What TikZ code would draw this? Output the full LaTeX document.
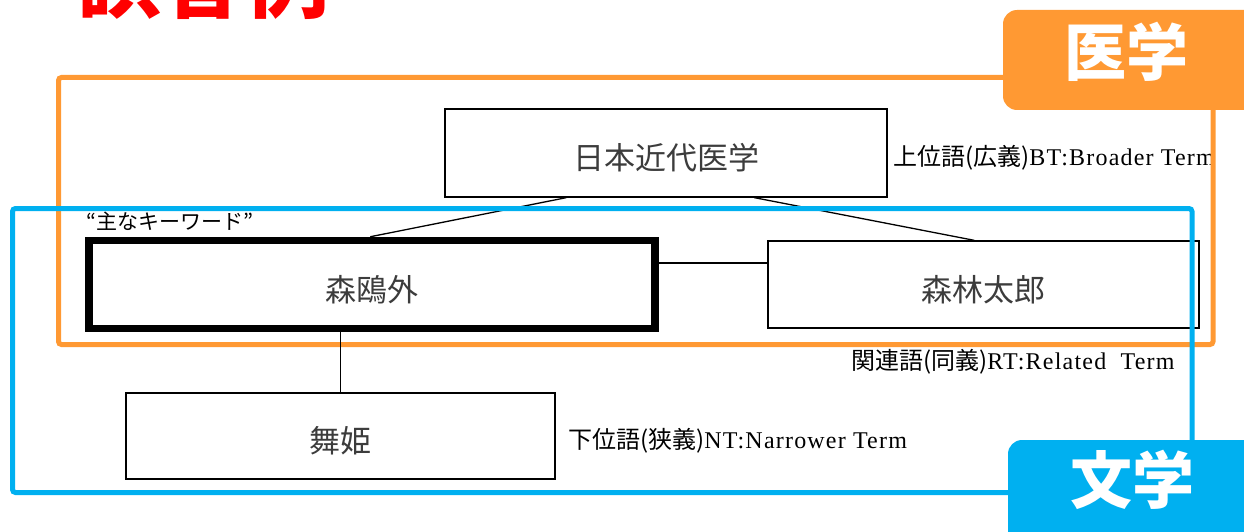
\documentclass[tikz,border=0pt]{standalone}
\usepackage{fontspec}
\setmainfont{Noto Sans CJK JP}
\newfontfamily\lat{Liberation Serif}[LetterSpace=5]
\usetikzlibrary{calc}
\definecolor{medorange}{RGB}{255,153,51}
\definecolor{litblue}{RGB}{0,176,240}
\definecolor{boxtext}{RGB}{60,60,60}
\begin{document}
\begin{tikzpicture}[x=1pt,y=-1pt,
  term/.style={draw, line width=1.3pt, text=boxtext, font=\fontsize{31}{36}\selectfont, inner sep=0pt, text height=33pt, text depth=0pt},
  note/.style={anchor=base west, inner sep=0pt, font=\fontsize{24}{28}\selectfont},
  conn/.style={line width=1.3pt},
  frame/.style={line width=5pt, rounded corners=3pt},
  tab/.style={rounded corners=14pt},
  tabtext/.style={anchor=base, text=white, inner sep=0pt, font=\fontsize{62}{70}\selectfont\bfseries}]
\useasboundingbox (0,0) rectangle (1244,532);
\node[anchor=base west, inner sep=0pt, text=red, font=\fontsize{84}{90}\selectfont\bfseries] (title) at (77,12) {誤答例};
% terms
\node[term, minimum width=442pt, minimum height=88pt] (bt) at (666,153) {日本近代医学};
\node[term, line width=7.5pt, minimum width=566pt, minimum height=88pt] (key) at (372,284.5) {森鴎外};
\node[term, minimum width=431pt, minimum height=87pt] (rt) at (983.5,284.5) {森林太郎};
\node[term, minimum width=429pt, minimum height=86pt] (nt) at (340.5,436) {舞姫};
% labels
\node[note, font=\fontsize{21}{24}\selectfont] (kw) at (86,229) {“主なキーワード”};
\node[note] (btl) at (893,165) {上位語(広義){\lat BT:Broader Term}};
\node[note] (rtl) at (851,369) {関連語(同義){\lat RT:Related\ \ Term}};
\node[note] (ntl) at (568,448) {下位語(狭義){\lat NT:Narrower Term}};
% frames
\draw[frame, medorange] (58.5,77.5) rectangle (1213,344.5);
% connectors
\draw[conn] ($(bt.south west)+(122,0)$) -- ($(key.north west)+(285,0)$);
\draw[conn] ($(bt.south west)+(310,0)$) -- ($(rt.north west)+(207,0)$);
\draw[conn] ($(key.east)+(0,-21.5)$) -- ($(rt.west)+(0,-21.5)$);
\draw[conn] (nt.north |- key.south) -- (nt.north);
\draw[frame, litblue] (12.5,208.5) rectangle (1192,492.5);
% tabs
\fill[medorange, tab] (1003,10) rectangle (1270,110);
\node[tabtext] (med) at (1126.5,75.5) {医学};
\fill[litblue, tab] (1008,440) rectangle (1270,560);
\node[tabtext] (lit) at (1132.5,503.5) {文学};
\end{tikzpicture}
\end{document}
